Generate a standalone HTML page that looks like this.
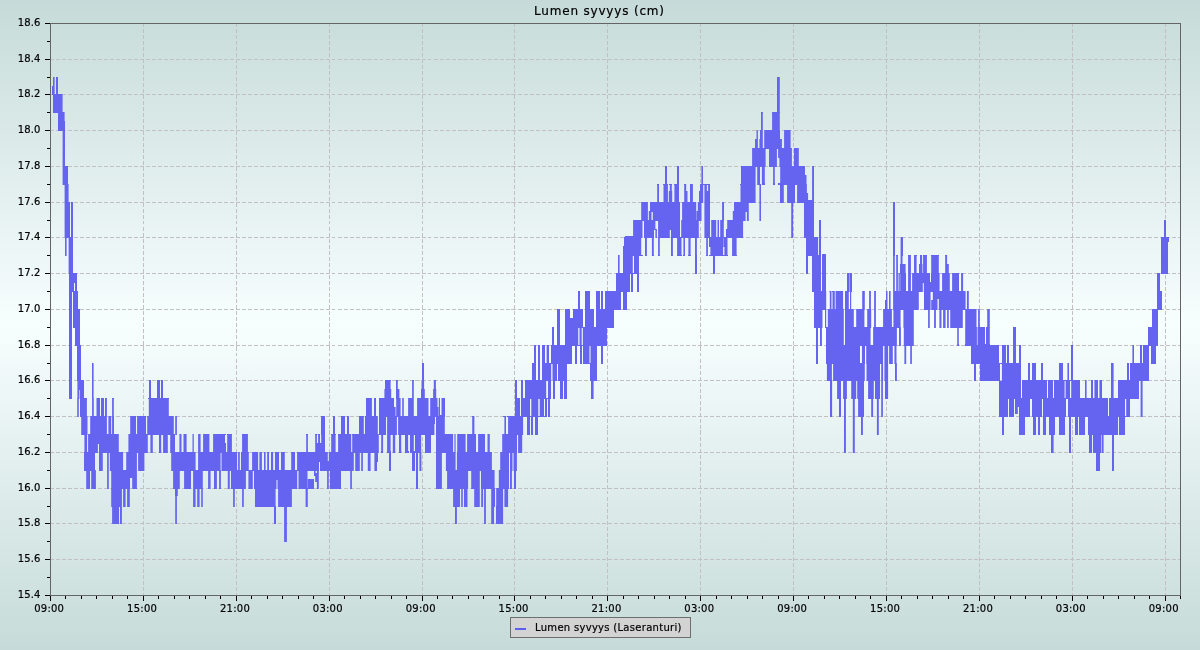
<!DOCTYPE html>
<html lang="fi"><head><meta charset="utf-8"><title>Lumen syvyys (cm)</title>
<style>html,body{margin:0;padding:0;background:#fff;overflow:hidden}svg{display:block;will-change:transform}</style></head>
<body>
<svg width="1200" height="650" viewBox="0 0 1200 650" shape-rendering="crispEdges">
<defs><linearGradient id="bg" x1="0" y1="0" x2="0" y2="1"><stop offset="0" stop-color="#c6dbd9"/><stop offset="0.5" stop-color="#f7fefe"/><stop offset="1" stop-color="#c6dbd9"/></linearGradient></defs>
<rect x="0" y="0" width="1200" height="650" fill="url(#bg)"/>
<path d="M143.5 23.5V595.5M236.5 23.5V595.5M329.5 23.5V595.5M422.5 23.5V595.5M514.5 23.5V595.5M607.5 23.5V595.5M700.5 23.5V595.5M793.5 23.5V595.5M886.5 23.5V595.5M979.5 23.5V595.5M1072.5 23.5V595.5M1165.5 23.5V595.5M50.5 559.5H1180.5M50.5 523.5H1180.5M50.5 488.5H1180.5M50.5 452.5H1180.5M50.5 416.5H1180.5M50.5 380.5H1180.5M50.5 345.5H1180.5M50.5 309.5H1180.5M50.5 273.5H1180.5M50.5 237.5H1180.5M50.5 202.5H1180.5M50.5 166.5H1180.5M50.5 130.5H1180.5M50.5 94.5H1180.5M50.5 59.5H1180.5" stroke="#c2c0c0" stroke-width="1" stroke-dasharray="4 2" stroke-dashoffset="1" fill="none"/>
<path fill="#6464f0" shape-rendering="auto" d="M52 86H53V95H52ZM53 77H54.6V113H53ZM54.6 94H56V113H54.6ZM56 77H58V113H56ZM58 94H62.6V131H58ZM62.6 112H64.6V185H62.6ZM64.6 121H65V238H64.6ZM65 166H66.6V256H65ZM66.6 166H68V238H66.6ZM68 184H68.6V238H68ZM68.6 202H69V274H68.6ZM69 202H70V399H69ZM70 237H71V399H70ZM71 202H72V399H71ZM72 202H73V292H72ZM73 273H74V328H73ZM74 273H75V283H74ZM74 291H75V328H74ZM75 273H77V346H75ZM77 291H77.4V381H77ZM77.2 398H77.4V417H77.2ZM77.4 291H78V417H77.4ZM78 309H78.8V417H78ZM78.8 309H79.4V399H78.8ZM79.4 309H80V390H79.4ZM80 345H81V417H80ZM81 380H81.2V417H81ZM81.2 380H84V435H81.2ZM84 398H84.4V435H84ZM84 452H84.4V471H84ZM84.4 398H86.2V471H84.4ZM86.2 398H86.9V489H86.2ZM86.9 398H87V399H86.9ZM86.9 416H87.1V489H86.9ZM87.1 416H87.5V435H87.1ZM87.1 452H88.1V489H87.1ZM88.1 434H90V489H88.1ZM90 434H90.2V471H90ZM90.2 416H91.2V471H90.2ZM91.2 416H92.1V489H91.2ZM92 363H92.1V399H92ZM92.1 363H93.6V489H92.1ZM93.6 398H93.8V489H93.6ZM93.8 416H95V489H93.8ZM95 470H95.9V489H95ZM95 416H96.5V453H95ZM96.5 398H97.9V453H96.5ZM97.9 398H99V444H97.9ZM99 398H100V471H99ZM100 416H101V471H100ZM101 398H102.8V471H101ZM102.8 398H104V453H102.8ZM104 416H105V453H104ZM105 398H106.9V453H105ZM106.9 434H107.1V453H106.9ZM107.1 434H108.4V489H107.1ZM108.4 416H108.8V489H108.4ZM108.8 416H109.8V453H108.8ZM109.8 416H111.2V471H109.8ZM111.2 434H112.1V507H111.2ZM112 398H112.1V399H112ZM112.1 398H113.8V524H112.1ZM113.8 398H114V399H113.8ZM113.8 416H114V524H113.8ZM114 434H118.8V524H114ZM118.8 452H119V524H118.8ZM119 452H120V507H119ZM120 452H121.9V524H120ZM121.9 452H123.1V489H121.9ZM123.1 470H125.6V507H123.1ZM125.6 470H126.2V489H125.6ZM126.2 452H127.1V489H126.2ZM127.1 452H128.4V507H127.1ZM128.4 434H129.8V507H128.4ZM129.8 434H130V489H129.8ZM130 434H130.2V478H130ZM130.2 416H132.2V478H130.2ZM132.2 416H136V489H132.2ZM136 434H136.9V489H136ZM136.9 434H137.1V453H136.9ZM137.1 416H138.1V453H137.1ZM138.1 416H144.4V471H138.1ZM144.4 416H146V453H144.4ZM146 434H147.2V453H146ZM147.2 416H147.8V453H147.2ZM147.8 416H148.8V435H147.8ZM148 398H148.8V399H148ZM148.8 398H149V435H148.8ZM149 380H150.4V435H149ZM150.4 380H151V453H150.4ZM151 398H152.8V453H151ZM152.8 398H157V435H152.8ZM157 380H159V435H157ZM159 380H160V453H159ZM160 398H161V453H160ZM161 380H161.2V453H161ZM161.2 380H163V435H161.2ZM163 398H163.1V435H163ZM163.1 398H167.8V453H163.1ZM167.8 398H168.8V435H167.8ZM168.8 398H169V399H168.8ZM168.8 416H170.2V435H168.8ZM170.2 416H171.2V453H170.2ZM171.2 416H173.1V471H171.2ZM173.1 416H173.8V489H173.1ZM173.8 434H175V489H173.8ZM175 452H175.2V496H175ZM175.2 416H176.9V435H175.2ZM175.2 452H176.9V524H175.2ZM176.9 452H177.8V496H176.9ZM177.8 452H179.4V489H177.8ZM179.4 434H179.8V489H179.4ZM179.8 434H181.5V471H179.8ZM181.5 452H183.5V471H181.5ZM183.5 434H184.1V471H183.5ZM184.1 434H186.6V489H184.1ZM186.6 452H191V489H186.6ZM191 452H192.5V471H191ZM192.5 434H193.1V471H192.5ZM193.1 434H193.8V507H193.1ZM193.8 452H195.6V507H193.8ZM195.6 470H197.2V489H195.6ZM197.2 470H198.1V507H197.2ZM198.1 434H199.6V507H198.1ZM199.6 434H200.6V489H199.6ZM200.6 452H201.2V489H200.6ZM201.2 452H202.8V507H201.2ZM202.8 452H203.1V471H202.8ZM203.1 434H208.1V471H203.1ZM208.1 434H209.4V489H208.1ZM209.4 452H210.6V489H209.4ZM210.6 452H213.1V471H210.6ZM213.1 434H214V471H213.1ZM214 434H216.9V489H214ZM216.9 434H219.1V471H216.9ZM219.1 434H220.6V489H219.1ZM220.6 470H220.9V489H220.6ZM220.6 434H221.5V453H220.6ZM221.5 434H225V471H221.5ZM225 434H226V435H225ZM225 443H226V471H225ZM226 452H227.2V471H226ZM227 434H227.2V435H227ZM227.2 434H227.8V471H227.2ZM227.8 434H229.8V489H227.8ZM229.8 434H231V471H229.8ZM231 434H231.9V489H231ZM231.9 434H232V435H231.9ZM231.9 452H233.1V489H231.9ZM233.1 452H234.8V507H233.1ZM234.8 452H237.1V489H234.8ZM237.1 470H238.1V489H237.1ZM238.1 452H239.8V489H238.1ZM239.8 470H241V489H239.8ZM241 452H242.1V489H241ZM242 434H242.1V435H242ZM242.1 434H243.8V507H242.1ZM243.8 434H245.9V489H243.8ZM245.9 434H247.9V471H245.9ZM247.9 434H248V435H247.9ZM247.9 452H248.4V471H247.9ZM248.4 452H248.8V489H248.4ZM248.8 470H252.1V489H248.8ZM252.1 452H252.8V489H252.1ZM252.8 452H254V471H252.8ZM254 452H255V489H254ZM255 452H258.1V507H255ZM258.1 470H259.4V507H258.1ZM259.4 452H261.9V507H259.4ZM261.9 470H264V507H261.9ZM264 452H265.6V507H264ZM265.6 470H267.2V507H265.6ZM267.2 452H269V507H267.2ZM269 470H271V507H269ZM271 452H273.1V507H271ZM273.1 470H274V507H273.1ZM274 470H275V524H274ZM275 452H275.6V524H275ZM275.6 506H276V524H275.6ZM275.6 452H276.5V489H275.6ZM276.5 452H277.5V480H276.5ZM277.5 452H278.1V489H277.5ZM278.1 452H279V507H278.1ZM279 470H281V507H279ZM281 452H284.1V507H281ZM284.1 452H284.8V542H284.1ZM284.8 470H286.9V542H284.8ZM286.9 470H291.2V507H286.9ZM291.2 452H291.9V507H291.2ZM291.9 452H295V489H291.9ZM295 470H297.1V489H295ZM297.1 452H297.2V489H297.1ZM297.2 452H298.5V471H297.2ZM298.5 452H305.6V489H298.5ZM305.6 452H306.2V507H305.6ZM306 434H306.2V435H306ZM306.2 434H307.5V507H306.2ZM307.5 488H307.8V507H307.5ZM307.5 434H307.9V471H307.5ZM307.8 479H314V489H307.8ZM307.9 434H308V435H307.9ZM307.9 452H314V471H307.9ZM314 452H315.2V476H314ZM315 434H315.2V435H315ZM315.2 434H315.6V482H315.2ZM315.6 434H316.9V471H315.6ZM315.6 473H316.9V482H315.6ZM316.9 434H317V435H316.9ZM316.9 443H318.1V489H316.9ZM317.6 434H318.1V435H317.6ZM318.1 434H318.8V489H318.1ZM318.8 434H319V471H318.8ZM319 434H320V462H319ZM320 443H321.2V471H320ZM321 416H321.2V435H321ZM321.2 416H325V471H321.2ZM325 452H327.1V471H325ZM327.1 452H327.8V489H327.1ZM327.8 461H328.8V489H327.8ZM328.8 452H330V471H328.8ZM330 452H331.2V489H330ZM331 434H331.2V435H331ZM331.2 434H333V489H331.2ZM333 416H335V489H333ZM335 434H335.6V489H335ZM335.6 434H336V435H335.6ZM335.6 452H338.1V489H335.6ZM338 434H338.1V435H338ZM338.1 434H341V489H338.1ZM341 416H345V471H341ZM345 434H347V471H345ZM347 416H349V471H347ZM349 434H350.2V471H349ZM350.2 434H351.2V489H350.2ZM351.2 452H351.9V489H351.2ZM351.9 452H352.2V471H351.9ZM352 434H352.2V435H352ZM352.2 434H353.8V471H352.2ZM353.8 434H355.2V453H353.8ZM355.2 434H359V471H355.2ZM359 416H359.8V471H359ZM359.8 416H361.2V453H359.8ZM361.2 416H362.9V471H361.2ZM362.9 416H363.8V453H362.9ZM363.8 434H365V453H363.8ZM365 416H366V453H365ZM366 398H367.8V453H366ZM367.8 398H370.6V471H367.8ZM370.6 398H371.9V453H370.6ZM371.9 416H374V453H371.9ZM374 398H374.4V453H374ZM374.4 398H376V471H374.4ZM376 416H377V471H376ZM377 416H377.8V462H377ZM377.8 434H378V462H377.8ZM378 434H378.8V453H378ZM379 398H381.2V435H379ZM381 451H381.2V453H381ZM381.2 398H383.1V453H381.2ZM383.1 398H384.4V435H383.1ZM384.4 389H385V435H384.4ZM385 380H386V435H385ZM386 380H387.1V417H386ZM387 451H387.1V453H387ZM387.1 380H389V453H387.1ZM389 380H390.6V471H389ZM390.6 380H391V381H390.6ZM390.6 451H391V471H390.6ZM390.6 389H391.2V435H390.6ZM391.2 398H392.8V435H391.2ZM392.8 398H394V453H392.8ZM394 407H395.2V453H394ZM395.2 407H395.6V435H395.2ZM395.6 416H396.2V435H395.6ZM396 380H396.2V399H396ZM396.2 380H396.9V435H396.2ZM396.9 380H397.8V417H396.9ZM397.8 380H398V381H397.8ZM397.8 389H398.1V417H397.8ZM398.1 389H399V435H398.1ZM399 389H399.4V453H399ZM399.4 398H400.6V453H399.4ZM400.6 416H401.2V453H400.6ZM401.2 451H401.4V453H401.2ZM401.2 416H402.2V435H401.2ZM402.2 398H403.8V435H402.2ZM403.8 416H405V435H403.8ZM405 416H408.1V453H405ZM408.1 451H409V453H408.1ZM408.1 398H410V435H408.1ZM410 398H412V453H410ZM412 380H412.1V381H412ZM412 398H412.1V471H412ZM412.1 380H413.8V471H412.1ZM413.8 380H414V381H413.8ZM413.8 416H415V435H413.8ZM413.8 451H415V471H413.8ZM415 416H416V453H415ZM416 416H417.1V489H416ZM417.1 398H418V489H417.1ZM418 398H419.4V453H418ZM419.4 398H421V471H419.4ZM421 389H421.2V471H421ZM421.2 452H421.4V471H421.2ZM421.2 389H421.5V435H421.2ZM421.5 380H422V435H421.5ZM422 363H424V435H422ZM424 380H424.1V435H424ZM424.1 389H424.8V435H424.1ZM424.8 398H425V435H424.8ZM425 398H428.5V453H425ZM428.5 416H430.2V453H428.5ZM430.2 398H431V453H430.2ZM431 398H433.1V435H431ZM433.1 389H433.8V435H433.1ZM433.6 380H433.8V381H433.6ZM433.8 380H434.4V435H433.8ZM434.4 380H435V424H434.4ZM435 380H435.9V417H435ZM435.9 389H436V417H435.9ZM436 389H436.2V489H436ZM436.2 398H437.5V489H436.2ZM437.5 407H438.5V489H437.5ZM438.5 416H438.8V489H438.5ZM438.8 398H440V489H438.8ZM440 415H441.5V489H440ZM441.5 398H441.9V489H441.5ZM441.9 398H444.8V453H441.9ZM444.8 398H445V417H444.8ZM444.8 434H445.9V453H444.8ZM445.9 434H447.1V471H445.9ZM447.1 434H453.1V489H447.1ZM453.1 452H454.4V507H453.1ZM454.4 434H455V507H454.4ZM455 434H455.6V524H455ZM455.6 470H456.9V524H455.6ZM456.9 452H457.2V507H456.9ZM457.2 434H460V507H457.2ZM460 434H461.2V489H460ZM461.2 434H462.8V507H461.2ZM462.8 434H464V489H462.8ZM464 434H465.6V507H464ZM465.6 452H467.1V507H465.6ZM467.1 434H467.5V507H467.1ZM467.5 434H468.1V489H467.5ZM468.1 434H471.2V471H468.1ZM471.2 434H472.2V489H471.2ZM472 416H472.2V417H472ZM472.2 416H474.2V489H472.2ZM474.2 416H474.4V507H474.2ZM474.4 434H476V507H474.4ZM476 452H478.1V507H476ZM478.1 434H479.8V507H478.1ZM479.8 434H481V471H479.8ZM481 434H481.2V489H481ZM481.2 434H483.1V507H481.2ZM483.1 434H484.1V489H483.1ZM484.1 434H485V524H484.1ZM485 452H485.9V524H485ZM485.9 452H487.5V489H485.9ZM487.5 434H489.8V489H487.5ZM489.8 452H491.2V489H489.8ZM491.2 452H491.9V524H491.2ZM491.9 470H494V524H491.9ZM494 470H494.6V507H494ZM494.6 488H495V507H494.6ZM496 506H496.2V524H496ZM496.2 488H498.8V524H496.2ZM498.8 470H500.2V524H498.8ZM500.2 452H502.2V524H500.2ZM502.2 434H503.1V524H502.2ZM503 416H504.4V417H503ZM503.1 434H504.4V489H503.1ZM504.4 416H506V507H504.4ZM506 434H508.1V507H506ZM507 416H508.1V417H507ZM508.1 416H509V489H508.1ZM509 416H510V453H509ZM510 416H511.9V489H510ZM511.9 416H512.5V471H511.9ZM512.5 416H513.5V453H512.5ZM513.5 416H514V471H513.5ZM514 416H515V489H514ZM515 380H516V489H515ZM516 380H516.9V471H516ZM516.9 380H517V453H516.9ZM517 398H518.1V435H517ZM518.1 398H520V453H518.1ZM520 416H521V453H520ZM521 380H522.2V453H521ZM522.2 380H523V435H522.2ZM523 398H523.1V435H523ZM523.1 398H525V417H523.1ZM525 380H527V417H525ZM527 380H530V435H527ZM530 416H531V417H530ZM530 380H531.3V399H530ZM531 416H531.3V435H531ZM531.3 380H532V435H531.3ZM532 363H533V435H532ZM533 363H534V417H533ZM534 345H535V417H534ZM535 345H536V435H535ZM536 380H538V435H536ZM538 345H538.3V417H538ZM538.3 345H539.7V399H538.3ZM538.3 416H539.7V417H538.3ZM539.7 345H540V417H539.7ZM540 380H542V417H540ZM542 345H544V417H542ZM544 345H545V399H544ZM544 416H545V417H544ZM545 363H546.2V417H545ZM546.2 363H546.6V381H546.2ZM546.2 398H547V417H546.2ZM546.6 345H548V381H546.6ZM547 398H548V399H547ZM548 345H549V417H548ZM549 363H550V417H549ZM550 363H551V399H550ZM551 345H551.2V381H551ZM551.2 345H552V364H551.2ZM552 327H552.5V364H552ZM552.5 327H553V381H552.5ZM553 327H554V399H553ZM554 345H555V399H554ZM555 345H557V381H555ZM557 309H558V364H557ZM558 309H560V381H558ZM560 345H563V399H560ZM563 345H564V381H563ZM564 345H565V399H564ZM565 309H567V399H565ZM567 309H570V364H567ZM570 318H572V364H570ZM572 318H573V346H572ZM573 309H575V346H573ZM575 309H577V364H575ZM577 309H578V346H577ZM578 291H578.3V346H578ZM578.3 291H579.5V328H578.3ZM578.3 345H579.5V346H578.3ZM579.5 291H580V346H579.5ZM580 309H581.7V364H580ZM581.7 345H582V364H581.7ZM581.7 309H582.8V328H581.7ZM582 345H582.8V346H582ZM582.8 309H583V346H582.8ZM583 327H585V364H583ZM585 291H589.5V364H585ZM589.5 291H590V346H589.5ZM589.5 363H590V364H589.5ZM590 309H590.5V346H590ZM590 363H590.5V381H590ZM590.5 309H591V381H590.5ZM591 309H593.6V399H591ZM593.6 309H594V381H593.6ZM594 327H596V381H594ZM596 291H597V381H596ZM597 291H600V346H597ZM600 309H601V346H600ZM601 291H603V364H601ZM603 309H605V346H603ZM605 291H607V346H605ZM607 291H614V328H607ZM614 291H616V310H614ZM616 273H618V310H616ZM618 255H619.6V310H618ZM619.6 273H621V310H619.6ZM621 273H623V292H621ZM623 246H624V310H623ZM624 237H625V310H624ZM625 236H627V310H625ZM627 236H630V292H627ZM630 236H631V274H630ZM631 236H632.8V292H631ZM632.8 273H633V292H632.8ZM632.8 236H633.1V256H632.8ZM633 273H634V274H633ZM633.1 220H634V256H633.1ZM634 220H637V274H634ZM637 220H639V292H637ZM639 220H641.2V256H639ZM641.2 202H642.5V238H641.2ZM641.2 255H643V256H641.2ZM642.5 202H644V221H642.5ZM644 202H645V238H644ZM645 202H646.9V256H645ZM646.9 202H647.9V238H646.9ZM647.9 220H648.8V238H647.9ZM648.8 211H650V238H648.8ZM650 202H651.5V238H650ZM651.5 220H651.9V238H651.5ZM651.5 202H652.8V212H651.5ZM651.9 220H652.8V256H651.9ZM652.8 202H653.8V256H652.8ZM653.8 202H654V238H653.8ZM653.8 255H654V256H653.8ZM654 202H655.4V230H654ZM655.4 229H656.9V238H655.4ZM655.4 202H657.2V221H655.4ZM657 184H657.2V185H657ZM657.2 184H658.1V221H657.2ZM658 255H658.1V256H658ZM658.1 184H659V256H658.1ZM659 202H659.8V256H659ZM659.8 255H660V256H659.8ZM659.8 202H663.5V238H659.8ZM663 184H663.5V185H663ZM663.5 184H665V238H663.5ZM665 166H667V238H665ZM667 184H667.9V238H667ZM667.9 184H668V185H667.9ZM667.9 202H668.8V238H667.9ZM668.8 191H669.8V238H668.8ZM669 184H669.8V185H669ZM669.8 184H671V230H669.8ZM671 184H671.8V256H671ZM671.8 184H672V185H671.8ZM671.8 191H672.2V256H671.8ZM672.2 202H672.9V256H672.2ZM672.9 255H673V256H672.9ZM672.9 202H674.4V238H672.9ZM674 184H674.4V185H674ZM674.4 184H677V238H674.4ZM677 166H677.1V238H677ZM677 255H677.1V256H677ZM677.1 166H679V256H677.1ZM679 202H680V256H679ZM680 237H681.2V256H680ZM681.2 220H681.5V256H681.2ZM681.5 255H682V256H681.5ZM681.5 220H682.1V238H681.5ZM682.1 202H683.4V238H682.1ZM683 255H683.4V256H683ZM683.4 202H684.2V256H683.4ZM684 184H684.2V185H684ZM684.2 184H685V256H684.2ZM685 184H686.2V238H685ZM686.2 191H687.5V238H686.2ZM687.5 202H688.4V238H687.5ZM688 255H688.4V256H688ZM688.4 202H690V256H688.4ZM690 184H690.6V256H690ZM690.6 255H691V256H690.6ZM690.6 184H692.9V238H690.6ZM692.9 202H695V238H692.9ZM695 202H696.2V274H695ZM696.2 220H696.5V274H696.2ZM696.5 211H696.9V274H696.5ZM696.9 255H697V274H696.9ZM696.9 211H697.8V238H696.9ZM697.8 202H698.8V238H697.8ZM698.8 202H699V221H698.8ZM699 191H700V221H699ZM700 184H701.4V221H700ZM701.4 166H701.5V221H701.4ZM701.5 166H703V203H701.5ZM703 184H703.2V203H703ZM703.2 184H704.4V185H703.2ZM704.4 184H706.2V238H704.4ZM706 255H706.2V256H706ZM706.2 184H706.9V256H706.2ZM706.9 191H707.9V256H706.9ZM706.9 184H708.1V185H706.9ZM707.9 255H708V256H707.9ZM707.9 191H708.1V238H707.9ZM708.1 184H709V238H708.1ZM709 184H710V247H709ZM709 255H710.4V256H709ZM710 237H710.4V247H710ZM710.4 237H711.2V256H710.4ZM711.2 220H713V256H711.2ZM713 220H715V274H713ZM715 220H716.2V256H715ZM716.2 237H717.5V256H716.2ZM717.5 220H719V256H717.5ZM719 237H720.2V256H719ZM720.2 220H722.1V256H720.2ZM722.1 202H723.1V256H722.1ZM723.1 202H723.4V238H723.1ZM723.1 255H724.4V256H723.1ZM723.4 202H723.8V247H723.4ZM723.8 202H724V221H723.8ZM723.8 237H724.4V247H723.8ZM724.4 237H726V256H724.4ZM726 229H727.2V256H726ZM727.2 220H727.5V256H727.2ZM727.5 255H728V256H727.5ZM727.5 220H732.1V238H727.5ZM732 255H732.1V256H732ZM732.1 220H732.8V256H732.1ZM732.8 211H734V256H732.8ZM734 202H736.6V256H734ZM736.6 255H737V256H736.6ZM736.6 202H740.5V238H736.6ZM740 184H740.5V185H740ZM740.5 184H741V238H740.5ZM741 166H743.1V238H741ZM743.1 166H745.6V221H743.1ZM745.6 166H746.9V212H745.6ZM746.9 166H748.8V221H746.9ZM748.8 166H752.1V203H748.8ZM752.1 148H755V203H752.1ZM755 139H755.6V203H755ZM755.6 139H756.5V167H755.6ZM756.5 130H757.2V167H756.5ZM757.2 130H757.9V185H757.2ZM757.9 148H759.4V185H757.9ZM759.4 139H760V221H759.4ZM760 130H761V167H760ZM760 184H761V221H760ZM761 112H761.9V167H761ZM761.9 112H762.8V185H761.9ZM762.8 112H763V113H762.8ZM762.8 148H764.2V185H762.8ZM764.2 130H764.8V185H764.2ZM764.8 183H765V185H764.8ZM764.8 130H765.6V167H764.8ZM765.6 130H769V149H765.6ZM769 130H772.1V167H769ZM772 112H772.1V113H772ZM772.1 112H773.1V167H772.1ZM773 183H773.1V185H773ZM773.1 112H774.8V185H773.1ZM774.8 183H775V185H774.8ZM774.8 112H776.9V167H774.8ZM776.9 112H777V149H776.9ZM777 77H778.1V149H777ZM778 183H780V185H778ZM778.1 77H779.4V158H778.1ZM779.4 77H779.8V167H779.4ZM779.8 112H780V113H779.8ZM779.8 130H780V167H779.8ZM780 139H780.2V167H780ZM780 183H780.2V203H780ZM780.2 139H781.9V203H780.2ZM781.9 148H783.8V203H781.9ZM783.8 148H784.1V185H783.8ZM784.1 130H787.1V185H784.1ZM787.1 130H790.6V203H787.1ZM790.6 148H791.2V203H790.6ZM791.2 148H791.9V238H791.2ZM791.9 166H793.1V238H791.9ZM793.1 166H794V203H793.1ZM794 148H795V203H794ZM795 148H797.1V185H795ZM797.1 148H798.8V203H797.1ZM798.8 166H804V203H798.8ZM804 166H805V238H804ZM805 175H806V238H805ZM806 175H806.5V274H806ZM806.5 184H806.9V274H806.5ZM806.9 193H808V274H806.9ZM808 193H808.1V256H808ZM808.1 200H812V256H808.1ZM812 183H812.1V185H812ZM812 200H812.1V292H812ZM812.1 166H814V292H812.1ZM814 237H816V328H814ZM816 237H818V364H816ZM818 237H818.1V328H818ZM818.1 255H819V328H818.1ZM819 220H820V328H819ZM820 220H821V346H820ZM821 291H821.9V346H821ZM821.9 291H822V328H821.9ZM822 255H822.1V328H822ZM822.1 254H822.5V328H822.1ZM822.5 254H825V310H822.5ZM825 254H825.9V328H825ZM825.9 255H826V328H825.9ZM826 291H826.2V364H826ZM826.2 327H826.9V364H826.2ZM826.9 327H827.8V381H826.9ZM827.8 309H829.8V381H827.8ZM829.4 291H829.8V292H829.4ZM829.8 291H830V381H829.8ZM830 291H831.5V417H830ZM831.5 309H831.9V417H831.5ZM831.9 380H832.1V417H831.9ZM831.9 309H832.5V364H831.9ZM832 291H832.5V292H832ZM832.5 291H833.1V364H832.5ZM833.1 291H834.8V381H833.1ZM834.8 309H835.6V381H834.8ZM835.6 291H837.1V381H835.6ZM837.1 291H839V399H837.1ZM839 291H841V417H839ZM841 291H843.1V381H841ZM843.1 309H843.8V399H843.1ZM843.8 345H844V399H843.8ZM844 345H845V453H844ZM845 291H845.9V453H845ZM845.9 291H846.9V399H845.9ZM846.9 291H847V381H846.9ZM847 273H848.8V381H847ZM848.8 273H849.6V292H848.8ZM848.8 309H850V381H848.8ZM850 273H851.2V381H850ZM851.2 273H852V292H851.2ZM851.2 309H852.8V399H851.2ZM852.8 309H853.8V453H852.8ZM853.8 327H854.8V453H853.8ZM854.8 327H856.2V399H854.8ZM856.2 309H857.2V381H856.2ZM857.2 309H858.1V399H857.2ZM858.1 309H860V417H858.1ZM860 363H861V417H860ZM860 309H861.9V346H860ZM861 363H861.9V435H861ZM861.9 309H862.2V435H861.9ZM862.2 291H862.9V435H862.2ZM862.9 291H864V417H862.9ZM864 291H864.4V381H864ZM864.4 291H864.8V310H864.4ZM864.4 327H864.8V381H864.4ZM864.8 327H865V364H864.8ZM865 327H866.2V346H865ZM866.2 327H866.5V364H866.2ZM866.5 327H867.2V381H866.5ZM867.2 309H868.1V381H867.2ZM868.1 309H869.1V399H868.1ZM869 291H869.1V292H869ZM869.1 291H870.6V399H869.1ZM870.6 291H870.9V328H870.6ZM870.6 345H871.2V399H870.6ZM870.9 309H871.2V328H870.9ZM871.2 345H873.1V417H871.2ZM873.1 327H873.8V399H873.1ZM873.8 327H874.1V381H873.8ZM874 291H874.1V292H874ZM874.1 291H875V381H874.1ZM875 291H875.9V399H875ZM875.9 327H876.9V399H875.9ZM876.9 327H878.8V435H876.9ZM878.8 327H880V399H878.8ZM880 327H881.2V364H880ZM881.2 327H882.9V417H881.2ZM882.9 327H883.1V381H882.9ZM883.1 309H884.4V346H883.1ZM884.4 309H885V381H884.4ZM885 300H886V399H885ZM886 291H887.5V399H886ZM887.5 309H888.1V399H887.5ZM888.1 309H889V346H888.1ZM889 291H889.1V346H889ZM889.1 291H890.6V364H889.1ZM890.6 309H891.9V364H890.6ZM891.9 327H892.8V364H891.9ZM892.8 327H893.4V346H892.8ZM893 202H893.1V256H893ZM893.1 202H893.4V310H893.1ZM893.4 202H894.4V346H893.4ZM894.4 202H894.8V364H894.4ZM894.8 202H895V256H894.8ZM894.8 291H895V364H894.8ZM895 291H896.2V381H895ZM896 255H896.2V256H896ZM896.2 255H896.5V381H896.2ZM896.5 255H896.9V346H896.5ZM896.5 363H896.9V381H896.5ZM896.9 255H897.9V328H896.9ZM897.9 255H898V256H897.9ZM897.9 291H898.5V328H897.9ZM898.5 273H899V328H898.5ZM899 273H899.8V346H899ZM899.8 291H900.2V346H899.8ZM900 264H900.2V274H900ZM900.2 264H900.6V346H900.2ZM900.6 327H900.9V346H900.6ZM900.6 237H902.5V310H900.6ZM902.5 237H903V256H902.5ZM902.5 264H903.4V310H902.5ZM903.4 264H903.8V328H903.4ZM903.8 264H904.4V346H903.8ZM904.4 264H905.6V364H904.4ZM905.6 273H906V364H905.6ZM906 291H906.2V364H906ZM906.2 291H908.1V346H906.2ZM908 255H908.1V256H908ZM908.1 255H910.2V346H908.1ZM910.2 255H910.9V364H910.2ZM910.9 255H911V256H910.9ZM910.9 291H911.9V364H910.9ZM911.9 291H912.1V346H911.9ZM912.1 273H913.8V346H912.1ZM913.8 273H914V310H913.8ZM914 255H916.6V310H914ZM916.6 255H917V256H916.6ZM916.6 273H918.8V310H916.6ZM918.8 273H919V292H918.8ZM919 264H920V292H919ZM920 255H922.1V292H920ZM922.1 264H922.5V292H922.1ZM922.5 273H922.8V292H922.5ZM922.8 273H923.1V283H922.8ZM923 255H923.1V256H923ZM923.1 255H923.8V283H923.1ZM923.8 255H924V292H923.8ZM924 255H926.9V310H924ZM926.9 255H927V256H926.9ZM926.9 273H928.1V310H926.9ZM928.1 273H929.8V328H928.1ZM929.8 273H930V310H929.8ZM930 282H930.6V310H930ZM930.6 282H931V292H930.6ZM931 255H931.2V256H931ZM931 273H931.2V292H931ZM931.2 255H932.8V292H931.2ZM931.2 300H932.8V310H931.2ZM932.8 255H934.1V310H932.8ZM934.1 255H935.9V328H934.1ZM935.9 255H937.5V310H935.9ZM937.5 255H938.8V299H937.5ZM938.8 255H939V256H938.8ZM938.8 273H939.4V310H938.8ZM939.4 273H939.6V328H939.4ZM939.6 291H941.5V328H939.6ZM941.5 291H942.1V310H941.5ZM942.1 273H943.1V310H942.1ZM943.1 273H945.2V328H943.1ZM945 255H945.2V256H945ZM945.2 255H945.6V328H945.2ZM945.6 255H947.1V310H945.6ZM947.1 264H948.8V328H947.1ZM948.8 273H949.8V310H948.8ZM949.8 291H950.2V310H949.8ZM950.2 291H952.1V328H950.2ZM952.1 273H957.2V328H952.1ZM957.1 344H957.2V346H957.1ZM957.2 273H958.8V346H957.2ZM958.8 273H959V328H958.8ZM958.8 344H959V346H958.8ZM959 291H961.1V328H959ZM961.1 273H962.8V328H961.1ZM962.8 273H963.1V310H962.8ZM963.1 291H965.2V310H963.1ZM965 344H965.2V346H965ZM965.2 291H965.6V346H965.2ZM965.6 309H966.9V346H965.6ZM966.9 291H968.8V346H966.9ZM968.8 309H971V346H968.8ZM971 309H974V364H971ZM974 309H976V381H974ZM976 309H976.5V364H976ZM976.5 327H976.9V364H976.5ZM976.9 345H977.5V364H976.9ZM977.5 327H978.1V364H977.5ZM978.1 309H979.8V364H978.1ZM979.8 327H980V364H979.8ZM980 327H985V381H980ZM985 344H986V381H985ZM986 327H987.2V381H986ZM987.2 309H989.8V381H987.2ZM989.8 344H990V381H989.8ZM990 345H999V381H990ZM999 363H1000V417H999ZM1000 363H1001.9V364H1000ZM1000 381H1001.9V417H1000ZM1001.9 363H1002V417H1001.9ZM1002 345H1004V435H1002ZM1004 345H1006V417H1004ZM1006 363H1007V417H1006ZM1007 345H1008V417H1007ZM1008 345H1009V399H1008ZM1009 363H1013V417H1009ZM1013 327H1014V417H1013ZM1014 327H1015V399H1014ZM1015 327H1016V414H1015ZM1016 363H1017.8V414H1016ZM1017.8 363H1019V407H1017.8ZM1019 345H1021V435H1019ZM1021 398H1022V435H1021ZM1022 380H1025V435H1022ZM1025 380H1028V417H1025ZM1028 363H1030V417H1028ZM1030 380H1032V399H1030ZM1032 363H1033V417H1032ZM1033 363H1036V435H1033ZM1036 380H1038V417H1036ZM1038 380H1040V435H1038ZM1040 380H1041V417H1040ZM1041 363H1042V417H1041ZM1042 363H1043V399H1042ZM1043 380H1046V435H1043ZM1046 380H1047V417H1046ZM1047 398H1048V417H1047ZM1048 380H1049V417H1048ZM1049 380H1051V435H1049ZM1051 380H1053V453H1051ZM1053 398H1053.6V453H1053ZM1053.6 398H1054V435H1053.6ZM1054 380H1055V435H1054ZM1055 380H1059V417H1055ZM1059 363H1063V435H1059ZM1063 380H1064.6V435H1063ZM1064.6 398H1065V435H1064.6ZM1064.6 380H1065.6V381H1064.6ZM1065 398H1065.6V417H1065ZM1065.6 380H1066V417H1065.6ZM1066 380H1067.4V399H1066ZM1067.4 363H1068V399H1067.4ZM1068 363H1069V417H1068ZM1069 380H1070V453H1069ZM1070 380H1071V381H1070ZM1070 398H1071V453H1070ZM1071 345H1071.2V381H1071ZM1071 398H1071.2V417H1071ZM1071.2 345H1073V417H1071.2ZM1073 380H1075V417H1073ZM1075 380H1078V435H1075ZM1078 380H1079V417H1078ZM1079 380H1080V435H1079ZM1080 398H1085V435H1080ZM1085 380H1086.6V417H1085ZM1086.6 398H1088V417H1086.6ZM1088 398H1089V435H1088ZM1089 398H1091V453H1089ZM1091 380H1092V453H1091ZM1092 380H1093V435H1092ZM1093 398H1094.4V453H1093ZM1094.4 380H1096V453H1094.4ZM1096 380H1098V471H1096ZM1098 398H1099.4V471H1098ZM1099.4 380H1100V471H1099.4ZM1100 380H1101V453H1100ZM1101 380H1101.6V435H1101ZM1101.6 380H1102V453H1101.6ZM1102 398H1103.6V453H1102ZM1103.6 398H1108V435H1103.6ZM1108 416H1109V435H1108ZM1109 398H1111V435H1109ZM1111 363H1112V435H1111ZM1112 363H1113.6V471H1112ZM1113.6 398H1114V471H1113.6ZM1114 398H1118V435H1114ZM1118 380H1119V417H1118ZM1119 380H1125V435H1119ZM1125 380H1126.2V399H1125ZM1125 416H1126.2V417H1125ZM1126.2 380H1127V417H1126.2ZM1127 363H1129V417H1127ZM1129 380H1130V417H1129ZM1130 363H1132.4V399H1130ZM1132.4 345H1134V399H1132.4ZM1134 363H1139V399H1134ZM1139 363H1140V381H1139ZM1140 345H1140.6V381H1140ZM1140.6 345H1142V417H1140.6ZM1142 363H1142.6V417H1142ZM1142.6 363H1143V381H1142.6ZM1143 345H1148V381H1143ZM1148 327H1149V381H1148ZM1149 327H1151V346H1149ZM1151 327H1152V364H1151ZM1152 309H1156V364H1152ZM1156 309H1157V346H1156ZM1157 273H1158V346H1157ZM1158 273H1160V310H1158ZM1160 291H1162V310H1160ZM1161 237H1164V274H1161ZM1164 220H1166V274H1164ZM1166 237H1168V274H1166ZM1168 237H1169V242H1168Z"/>
<rect x="50.5" y="23.5" width="1130.0" height="572.0" fill="none" stroke="#646464" stroke-width="1"/>
<path d="M45.0 595.5H50.0M47.0 577.5H50.0M45.0 559.5H50.0M47.0 541.5H50.0M45.0 523.5H50.0M47.0 506.5H50.0M45.0 488.5H50.0M47.0 470.5H50.0M45.0 452.5H50.0M47.0 434.5H50.0M45.0 416.5H50.0M47.0 398.5H50.0M45.0 380.5H50.0M47.0 363.5H50.0M45.0 345.5H50.0M47.0 327.5H50.0M45.0 309.5H50.0M47.0 291.5H50.0M45.0 273.5H50.0M47.0 255.5H50.0M45.0 237.5H50.0M47.0 220.5H50.0M45.0 202.5H50.0M47.0 184.5H50.0M45.0 166.5H50.0M47.0 148.5H50.0M45.0 130.5H50.0M47.0 112.5H50.0M45.0 94.5H50.0M47.0 77.5H50.0M45.0 59.5H50.0M47.0 41.5H50.0M45.0 23.5H50.0M50.5 596.0V601.0M65.5 596.0V599.0M81.5 596.0V599.0M96.5 596.0V599.0M112.5 596.0V599.0M127.5 596.0V599.0M143.5 596.0V601.0M158.5 596.0V599.0M174.5 596.0V599.0M189.5 596.0V599.0M205.5 596.0V599.0M220.5 596.0V599.0M236.5 596.0V601.0M251.5 596.0V599.0M267.5 596.0V599.0M282.5 596.0V599.0M298.5 596.0V599.0M313.5 596.0V599.0M329.5 596.0V601.0M344.5 596.0V599.0M360.5 596.0V599.0M375.5 596.0V599.0M391.5 596.0V599.0M406.5 596.0V599.0M422.5 596.0V601.0M437.5 596.0V599.0M452.5 596.0V599.0M468.5 596.0V599.0M483.5 596.0V599.0M499.5 596.0V599.0M514.5 596.0V601.0M530.5 596.0V599.0M545.5 596.0V599.0M561.5 596.0V599.0M576.5 596.0V599.0M592.5 596.0V599.0M607.5 596.0V601.0M623.5 596.0V599.0M638.5 596.0V599.0M654.5 596.0V599.0M669.5 596.0V599.0M685.5 596.0V599.0M700.5 596.0V601.0M716.5 596.0V599.0M731.5 596.0V599.0M747.5 596.0V599.0M762.5 596.0V599.0M778.5 596.0V599.0M793.5 596.0V601.0M808.5 596.0V599.0M824.5 596.0V599.0M839.5 596.0V599.0M855.5 596.0V599.0M870.5 596.0V599.0M886.5 596.0V601.0M901.5 596.0V599.0M917.5 596.0V599.0M932.5 596.0V599.0M948.5 596.0V599.0M963.5 596.0V599.0M979.5 596.0V601.0M994.5 596.0V599.0M1010.5 596.0V599.0M1025.5 596.0V599.0M1041.5 596.0V599.0M1056.5 596.0V599.0M1072.5 596.0V601.0M1087.5 596.0V599.0M1103.5 596.0V599.0M1118.5 596.0V599.0M1134.5 596.0V599.0M1149.5 596.0V599.0M1165.5 596.0V601.0M1180.5 596.0V599.0" stroke="#000" stroke-width="1" fill="none"/>
<g font-family="'DejaVu Sans', 'Liberation Sans', sans-serif" font-size="10" fill="#000" stroke="#000" stroke-width="0.2">
<text x="40.4" y="598.0" text-anchor="end" textLength="22.7" lengthAdjust="spacing">15.4</text>
<text x="40.4" y="562.0" text-anchor="end" textLength="22.7" lengthAdjust="spacing">15.6</text>
<text x="40.4" y="526.0" text-anchor="end" textLength="22.7" lengthAdjust="spacing">15.8</text>
<text x="40.4" y="491.0" text-anchor="end" textLength="22.7" lengthAdjust="spacing">16.0</text>
<text x="40.4" y="455.0" text-anchor="end" textLength="22.7" lengthAdjust="spacing">16.2</text>
<text x="40.4" y="419.0" text-anchor="end" textLength="22.7" lengthAdjust="spacing">16.4</text>
<text x="40.4" y="383.0" text-anchor="end" textLength="22.7" lengthAdjust="spacing">16.6</text>
<text x="40.4" y="348.0" text-anchor="end" textLength="22.7" lengthAdjust="spacing">16.8</text>
<text x="40.4" y="312.0" text-anchor="end" textLength="22.7" lengthAdjust="spacing">17.0</text>
<text x="40.4" y="276.0" text-anchor="end" textLength="22.7" lengthAdjust="spacing">17.2</text>
<text x="40.4" y="240.0" text-anchor="end" textLength="22.7" lengthAdjust="spacing">17.4</text>
<text x="40.4" y="205.0" text-anchor="end" textLength="22.7" lengthAdjust="spacing">17.6</text>
<text x="40.4" y="169.0" text-anchor="end" textLength="22.7" lengthAdjust="spacing">17.8</text>
<text x="40.4" y="133.0" text-anchor="end" textLength="22.7" lengthAdjust="spacing">18.0</text>
<text x="40.4" y="97.0" text-anchor="end" textLength="22.7" lengthAdjust="spacing">18.2</text>
<text x="40.4" y="62.0" text-anchor="end" textLength="22.7" lengthAdjust="spacing">18.4</text>
<text x="40.4" y="26.0" text-anchor="end" textLength="22.7" lengthAdjust="spacing">18.6</text>
<text x="49.1" y="612" text-anchor="middle" textLength="29.8" lengthAdjust="spacing">09:00</text>
<text x="142.0" y="612" text-anchor="middle" textLength="29.8" lengthAdjust="spacing">15:00</text>
<text x="234.9" y="612" text-anchor="middle" textLength="29.8" lengthAdjust="spacing">21:00</text>
<text x="327.7" y="612" text-anchor="middle" textLength="29.8" lengthAdjust="spacing">03:00</text>
<text x="420.6" y="612" text-anchor="middle" textLength="29.8" lengthAdjust="spacing">09:00</text>
<text x="513.5" y="612" text-anchor="middle" textLength="29.8" lengthAdjust="spacing">15:00</text>
<text x="606.4" y="612" text-anchor="middle" textLength="29.8" lengthAdjust="spacing">21:00</text>
<text x="699.2" y="612" text-anchor="middle" textLength="29.8" lengthAdjust="spacing">03:00</text>
<text x="792.1" y="612" text-anchor="middle" textLength="29.8" lengthAdjust="spacing">09:00</text>
<text x="885.0" y="612" text-anchor="middle" textLength="29.8" lengthAdjust="spacing">15:00</text>
<text x="977.9" y="612" text-anchor="middle" textLength="29.8" lengthAdjust="spacing">21:00</text>
<text x="1070.7" y="612" text-anchor="middle" textLength="29.8" lengthAdjust="spacing">03:00</text>
<text x="1163.6" y="612" text-anchor="middle" textLength="29.8" lengthAdjust="spacing">09:00</text>
</g>
<text x="534" y="15" textLength="130" lengthAdjust="spacing" font-family="'DejaVu Sans', 'Liberation Sans', sans-serif" font-size="12" fill="#000" stroke="#000" stroke-width="0.2">Lumen syvyys (cm)</text>
<rect x="510.5" y="617.5" width="180" height="20" fill="#d3d3d3" stroke="#6e6e6e" stroke-width="1"/>
<path d="M515 629H526" stroke="#5f5fef" stroke-width="2" fill="none"/>
<text x="535" y="631" textLength="146.5" lengthAdjust="spacing" font-family="'DejaVu Sans', 'Liberation Sans', sans-serif" font-size="10" fill="#000" stroke="#000" stroke-width="0.2">Lumen syvyys (Laseranturi)</text>
</svg>
</body></html>
